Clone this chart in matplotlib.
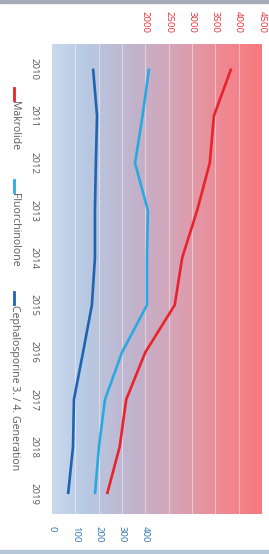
import numpy as np
import matplotlib
matplotlib.use("Agg")
import matplotlib.pyplot as plt
from matplotlib.colors import LinearSegmentedColormap
from matplotlib.lines import Line2D
from matplotlib.patches import Rectangle

plt.rcParams['font.family'] = ['Open Sans', 'DejaVu Sans']

years = [2010, 2011, 2012, 2013, 2014, 2015, 2016, 2017, 2018, 2019]
makrolide = [3840, 3470, 3380, 3110, 2790, 2630, 2000, 1590, 1450, 1180]
fluorchinolone = [416, 388, 356, 411, 407, 407, 300, 227, 201, 184]
cephalosporine = [176, 193, 188, 184, 184, 171, 133, 94, 90, 69]

blue_ticks = [0, 100, 200, 300, 400]
red_ticks = [2000, 2500, 3000, 3500, 4000, 4500]

names = ["Makrolide", "Fluorchinolone", "Cephalosporine 3. / 4. Generation"]
colors = ["#e8232b", "#29a9e1", "#1f64b1"]

W, H = 269, 554
fig = plt.figure(figsize=(W/100, H/100), dpi=100)
fig.patch.set_facecolor("white")

ax = fig.add_axes([52/W, 1 - 514/H, 210/W, 470/H])
ax.set_xlim(0, 900)
ax.set_ylim(2019.42, 2009.48)

# background gradient blue -> red
cmap = LinearSegmentedColormap.from_list("bg", [
    (0.0, "#c9d9ee"), (0.15, "#b8cae4"), (0.4, "#c2b2cb"),
    (0.6, "#d8a2b4"), (0.8, "#ee8a95"), (1.0, "#f8797d")])
grad = np.linspace(0, 1, 256).reshape(1, -1)
ax.imshow(grad, cmap=cmap, aspect="auto", extent=[0, 900, 2019.42, 2009.48],
          zorder=0)

for g in range(100, 900, 100):
    ax.axvline(g, color="white", alpha=0.45, lw=0.8, zorder=1)

for s in ax.spines.values():
    s.set_visible(False)

ax.plot(fluorchinolone, years, color=colors[1], lw=1.9, zorder=3,
        solid_capstyle="butt")
ax.plot(cephalosporine, years, color=colors[2], lw=1.9, zorder=3,
        solid_capstyle="butt")

ax.set_xticks(blue_ticks)
ax.set_xticklabels([str(t) for t in blue_ticks], rotation=-90,
                   color="#2e74b5", fontsize=6.8)
ax.tick_params(axis="x", length=0, pad=9)

ax.set_yticks(years)
ax.set_yticklabels([str(y) for y in years], rotation=-90, color="#595959",
                   fontsize=6.8, va="center")
ax.tick_params(axis="y", length=0, pad=10)

ax2 = ax.twiny()
ax2.set_xlim(0, 4500)
ax2.plot(makrolide, years, color=colors[0], lw=1.9, zorder=3,
         solid_capstyle="butt")
ax2.set_xticks(red_ticks)
ax2.set_xticklabels([str(t) for t in red_ticks], rotation=-90,
                    color="#e8303a", fontsize=6.8)
ax2.tick_params(axis="x", length=0, pad=8)
for s in ax2.spines.values():
    s.set_visible(False)

# legend, rotated like the rest
leg_y = [88, 180, 292]
for name, c, y0 in zip(names, colors, leg_y):
    fig.add_artist(Line2D([14/W, 14/W], [1 - y0/H, 1 - (y0 + 12)/H],
                          color=c, lw=2.0, transform=fig.transFigure))
    fig.text(14/W, 1 - (y0 + 13)/H, name, rotation=-90, color="#595959",
             fontsize=7.6, ha="center", va="top")

# frame lines of the screenshot
fig.add_artist(Rectangle((0, 1 - 3/H), 1, 3/H, color="#a3abb8",
                         transform=fig.transFigure))
fig.add_artist(Rectangle((0, 0), 1, 4/H, color="#b6c6da",
                         transform=fig.transFigure))

fig.savefig("out.png", dpi=100)
